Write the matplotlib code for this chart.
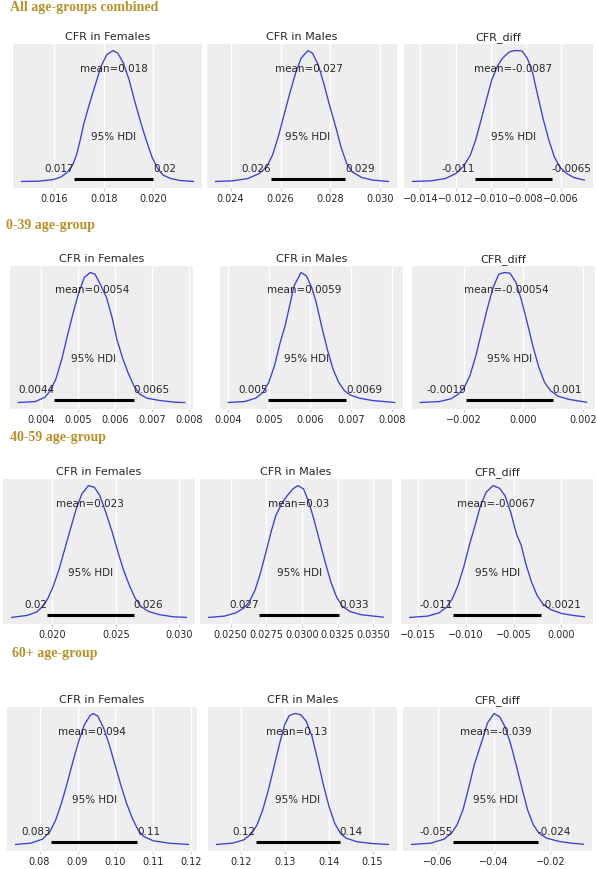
import matplotlib.pyplot as plt
from matplotlib.ticker import FixedLocator, ScalarFormatter

ROW_TITLES = ["All age-groups combined", "0-39 age-group", "40-59 age-group", "60+ age-group"]
PANEL_TITLES = ["CFR in Females", "CFR in Males", "CFR_diff"]

# posterior densities (relative height, peak = 1)
ALL_F_X = [0.01467, 0.01536, 0.01597, 0.01627, 0.01650, 0.01673, 0.01689, 0.01704, 0.01719, 0.01742,
           0.01765, 0.01788, 0.01811, 0.01837, 0.01856, 0.01879, 0.01902, 0.01925, 0.01948, 0.01971,
           0.01994, 0.02017, 0.02040, 0.02070, 0.02109, 0.02162]
ALL_F_DENS = [0.003, 0.005, 0.018, 0.038, 0.069, 0.127, 0.204, 0.318, 0.445, 0.598,
              0.738, 0.878, 0.967, 1.0, 0.98, 0.903, 0.776, 0.611, 0.458, 0.318,
              0.191, 0.102, 0.051, 0.025, 0.010, 0.003]
ALL_M_X = [0.02340, 0.02408, 0.02469, 0.02515, 0.02545, 0.02568, 0.02591, 0.02614, 0.02637, 0.02660,
           0.02682, 0.02710, 0.02728, 0.02751, 0.02773, 0.02796, 0.02819, 0.02842, 0.02865, 0.02887,
           0.02925, 0.02971, 0.03032]
ALL_M_DENS = [0.003, 0.008, 0.025, 0.064, 0.115, 0.204, 0.344, 0.509, 0.674, 0.827,
              0.941, 1.0, 0.98, 0.891, 0.751, 0.585, 0.433, 0.267, 0.140, 0.076,
              0.033, 0.013, 0.003]
ALL_D_X = [-0.01445, -0.01339, -0.01258, -0.01197, -0.01156, -0.01115, -0.01085, -0.01054, -0.01024, -0.00993,
           -0.00962, -0.00932, -0.00892, -0.00861, -0.00820, -0.00790, -0.00759, -0.00729, -0.00698, -0.00667,
           -0.00636, -0.00606, -0.00566, -0.00525, -0.00464]
ALL_D_DENS = [0.003, 0.008, 0.025, 0.064, 0.115, 0.204, 0.318, 0.471, 0.623, 0.776,
              0.878, 0.941, 0.990, 1.0, 0.997, 0.941, 0.827, 0.649, 0.471, 0.318,
              0.191, 0.115, 0.064, 0.033, 0.013]

Y39_F_X = [0.00338, 0.00384, 0.00410, 0.00425, 0.00440, 0.00456, 0.00471, 0.00487, 0.00502, 0.00517,
           0.00533, 0.00546, 0.00560, 0.00577, 0.00592, 0.00605, 0.00620, 0.00635, 0.00651, 0.00666,
           0.00687, 0.00722, 0.00763, 0.00789]
Y39_F_DENS = [0.003, 0.010, 0.043, 0.094, 0.184, 0.337, 0.515, 0.694, 0.847, 0.962,
              1.0, 0.987, 0.911, 0.809, 0.656, 0.490, 0.349, 0.235, 0.133, 0.069,
              0.036, 0.018, 0.005, 0.003]
Y39_M_X = [0.00400, 0.00439, 0.00467, 0.00485, 0.00499, 0.00513, 0.00527, 0.00539, 0.00550, 0.00561,
           0.00578, 0.00591, 0.00604, 0.00615, 0.00628, 0.00642, 0.00656, 0.00670, 0.00684, 0.00698,
           0.00721, 0.00753, 0.00807]
Y39_M_DENS = [0.003, 0.010, 0.036, 0.082, 0.158, 0.286, 0.464, 0.592, 0.745, 0.898,
              1.0, 0.974, 0.885, 0.770, 0.592, 0.413, 0.260, 0.158, 0.094, 0.061,
              0.036, 0.018, 0.003]
Y39_D_X = [-0.00347, -0.00283, -0.00244, -0.00218, -0.00199, -0.00180, -0.00160, -0.00141, -0.00122, -0.00102,
           -0.00083, -0.00064, -0.00045, -0.00025, -0.00006, 0.00014, 0.00033, 0.00052, 0.00071, 0.00091,
           0.00117, 0.00155, 0.00213]
Y39_D_DENS = [0.003, 0.010, 0.031, 0.069, 0.120, 0.209, 0.362, 0.541, 0.719, 0.885,
              0.987, 1.0, 0.995, 0.923, 0.783, 0.605, 0.426, 0.273, 0.158, 0.094,
              0.051, 0.026, 0.005]

Y59_F_X = [0.01680, 0.01800, 0.01874, 0.01919, 0.01964, 0.02009, 0.02054, 0.02098, 0.02143, 0.02188,
           0.02233, 0.02284, 0.02332, 0.02374, 0.02421, 0.02472, 0.02517, 0.02562, 0.02607, 0.02652,
           0.02696, 0.02757, 0.02846, 0.02951, 0.03055]
Y59_F_DENS = [0.003, 0.018, 0.043, 0.081, 0.144, 0.244, 0.370, 0.521, 0.673, 0.824,
              0.937, 1.0, 0.987, 0.924, 0.798, 0.647, 0.496, 0.358, 0.244, 0.149,
              0.088, 0.048, 0.023, 0.008, 0.003]
Y59_M_X = [0.02347, 0.02458, 0.02538, 0.02592, 0.02632, 0.02671, 0.02711, 0.02751, 0.02783, 0.02817,
           0.02857, 0.02897, 0.02937, 0.02972, 0.03011, 0.03049, 0.03083, 0.03123, 0.03163, 0.03203,
           0.03243, 0.03283, 0.03336, 0.03416, 0.03570]
Y59_M_DENS = [0.003, 0.013, 0.038, 0.073, 0.123, 0.207, 0.345, 0.509, 0.647, 0.773,
              0.861, 0.924, 0.975, 1.0, 0.975, 0.874, 0.748, 0.584, 0.421, 0.270,
              0.156, 0.088, 0.048, 0.023, 0.005]
Y59_D_X = [-0.01583, -0.01394, -0.01276, -0.01197, -0.01138, -0.01080, -0.01020, -0.00962, -0.00902, -0.00844,
           -0.00785, -0.00714, -0.00647, -0.00589, -0.00529, -0.00470, -0.00419, -0.00372, -0.00312, -0.00254,
           -0.00195, -0.00115, 0.00001, 0.00120, 0.00238]
Y59_D_DENS = [0.003, 0.013, 0.038, 0.081, 0.144, 0.244, 0.383, 0.547, 0.698, 0.849,
              0.950, 1.0, 0.980, 0.924, 0.798, 0.635, 0.547, 0.408, 0.270, 0.169,
              0.106, 0.063, 0.033, 0.018, 0.008]

Y60_F_X = [0.07370, 0.07772, 0.08074, 0.08276, 0.08427, 0.08578, 0.08729, 0.08880, 0.09031, 0.09182,
           0.09333, 0.09413, 0.09534, 0.09685, 0.09836, 0.09987, 0.10138, 0.10290, 0.10441, 0.10592,
           0.10743, 0.10994, 0.11397, 0.11920]
Y60_F_DENS = [0.003, 0.013, 0.043, 0.102, 0.191, 0.318, 0.471, 0.636, 0.789, 0.916,
              0.985, 1.0, 0.980, 0.891, 0.763, 0.611, 0.458, 0.318, 0.204, 0.115,
              0.064, 0.031, 0.013, 0.003]
Y60_M_X = [0.11450, 0.11813, 0.12070, 0.12243, 0.12372, 0.12501, 0.12630, 0.12759, 0.12888, 0.13000,
           0.13104, 0.13233, 0.13362, 0.13491, 0.13620, 0.13749, 0.13879, 0.14008, 0.14137, 0.14266,
           0.14395, 0.14653, 0.15000, 0.15360]
Y60_M_DENS = [0.003, 0.013, 0.038, 0.084, 0.153, 0.267, 0.420, 0.598, 0.776, 0.916,
              0.985, 1.0, 0.992, 0.941, 0.827, 0.649, 0.458, 0.293, 0.165, 0.089,
              0.051, 0.023, 0.010, 0.003]
Y60_D_X = [-0.06920, -0.06244, -0.05775, -0.05506, -0.05306, -0.05099, -0.04898, -0.04697, -0.04563, -0.04429,
           -0.04228, -0.03997, -0.03796, -0.03619, -0.03418, -0.03217, -0.03010, -0.02809, -0.02608, -0.02407,
           -0.02139, -0.01664, -0.01262, -0.00830]
Y60_D_DENS = [0.003, 0.013, 0.043, 0.089, 0.153, 0.267, 0.433, 0.611, 0.700, 0.789,
              0.929, 1.0, 0.975, 0.903, 0.776, 0.611, 0.433, 0.267, 0.153, 0.089,
              0.051, 0.025, 0.013, 0.005]

# means and 95% HDI bounds, with the labels shown on the plots
MEANS = [[0.0184, 0.02712, -0.00872], [0.00538, 0.00585, -0.00058],
         [0.02297, 0.0298, -0.0068], [0.0939, 0.1327, -0.0392]]
MEAN_LABELS = [["0.018", "0.027", "-0.0087"], ["0.0054", "0.0059", "-0.00054"],
               ["0.023", "0.03", "-0.0067"], ["0.094", "0.13", "-0.039"]]
HDI_LO = [[0.0168, 0.0256, -0.0109], [0.00435, 0.00497, -0.00193],
          [0.0196, 0.0270, -0.0113], [0.0830, 0.1234, -0.0547]]
HDI_HI = [[0.0200, 0.0286, -0.0065], [0.00651, 0.00688, 0.00099],
          [0.0264, 0.0326, -0.0021], [0.1058, 0.1425, -0.0244]]
HDI_LO_LABELS = [["0.017", "0.026", "-0.011"], ["0.0044", "0.005", "-0.0019"],
                 ["0.02", "0.027", "-0.011"], ["0.083", "0.12", "-0.055"]]
HDI_HI_LABELS = [["0.02", "0.029", "-0.0065"], ["0.0065", "0.0069", "0.001"],
                 ["0.026", "0.033", "-0.0021"], ["0.11", "0.14", "-0.024"]]

TICKS = [
    [[0.016, 0.018, 0.020], [0.024, 0.026, 0.028, 0.030], [-0.014, -0.012, -0.010, -0.008, -0.006]],
    [[0.004, 0.005, 0.006, 0.007, 0.008], [0.004, 0.005, 0.006, 0.007, 0.008], [-0.002, 0.000, 0.002]],
    [[0.020, 0.025, 0.030], [0.0250, 0.0275, 0.0300, 0.0325, 0.0350], [-0.015, -0.010, -0.005, 0.000]],
    [[0.08, 0.09, 0.10, 0.11, 0.12], [0.12, 0.13, 0.14, 0.15], [-0.06, -0.04, -0.02]],
]

CURVES = [
    [(ALL_F_X, ALL_F_DENS), (ALL_M_X, ALL_M_DENS), (ALL_D_X, ALL_D_DENS)],
    [(Y39_F_X, Y39_F_DENS), (Y39_M_X, Y39_M_DENS), (Y39_D_X, Y39_D_DENS)],
    [(Y59_F_X, Y59_F_DENS), (Y59_M_X, Y59_M_DENS), (Y59_D_X, Y59_D_DENS)],
    [(Y60_F_X, Y60_F_DENS), (Y60_M_X, Y60_M_DENS), (Y60_D_X, Y60_D_DENS)],
]

# layout in pixels of the original composite
W, H = 597, 869
ROW_Y = [(44, 188), (266, 409), (479, 624), (707, 851)]
COL_X = [[(13, 202), (207, 397), (404, 593)],
         [(10, 193), (220, 403), (412, 595)],
         [(3, 195), (200, 392), (401, 593)],
         [(7, 197), (208, 397), (403, 592)]]
HEADER_POS = [(10, 8), (6, 226), (10, 438), (12, 653)]

GOLD = "#b8912b"
BLUE = "#3a3ed8"
TEXT = "#262626"

fig = plt.figure(figsize=(W / 100, H / 100), dpi=100)

for r in range(4):
    hx, hy = HEADER_POS[r]
    fig.text(hx / W, 1 - hy / H, ROW_TITLES[r], ha="left", va="center",
             family="Liberation Serif", weight="bold", fontsize=10, color=GOLD)
    top, bottom = ROW_Y[r]
    for c in range(3):
        x0, x1 = COL_X[r][c]
        ax = fig.add_axes([x0 / W, 1 - bottom / H, (x1 - x0) / W, (bottom - top) / H])
        ax.set_facecolor("#eeeeee")
        for s in ax.spines.values():
            s.set_visible(False)
        ax.set_axisbelow(True)
        ax.grid(axis="x", color="white", lw=0.9)

        xs, dens = CURVES[r][c]
        ax.plot(xs, dens, color=BLUE, lw=0.95, solid_joinstyle="round")
        ytop = ax.get_ylim()[1]

        lo, hi = HDI_LO[r][c], HDI_HI[r][c]
        ax.plot([lo, hi], [ytop * 0.02, ytop * 0.02], color="k", lw=2.2, solid_capstyle="butt")
        ax.text(MEANS[r][c], ytop * 0.8, "mean=" + MEAN_LABELS[r][c], ha="center",
                fontsize=7.5, color=TEXT)
        ax.text((lo + hi) / 2, ytop * 0.3, "95% HDI", ha="center", fontsize=7.5, color=TEXT)
        ax.text(lo, ytop * 0.07, HDI_LO_LABELS[r][c], ha="right", fontsize=7.5, color=TEXT)
        ax.text(hi, ytop * 0.07, HDI_HI_LABELS[r][c], ha="left", fontsize=7.5, color=TEXT)

        ax.set_title(PANEL_TITLES[c], fontsize=8, color=TEXT, pad=3)
        ax.set_yticks([])
        ax.xaxis.set_major_locator(FixedLocator(TICKS[r][c]))
        ax.xaxis.set_major_formatter(ScalarFormatter(useOffset=False))
        ax.tick_params(axis="x", length=2, color="#d0d0d0", pad=2, labelsize=7, labelcolor=TEXT)

fig.savefig("out.png", dpi=100)
